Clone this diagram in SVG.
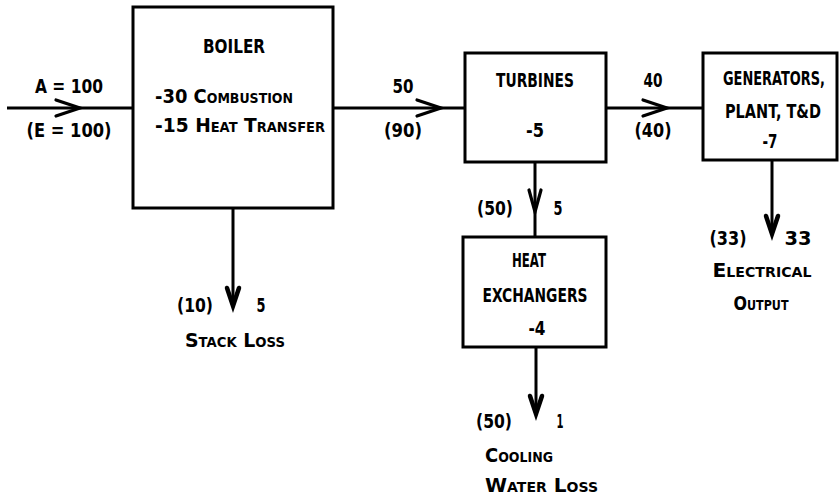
<svg xmlns="http://www.w3.org/2000/svg" xmlns:xlink="http://www.w3.org/1999/xlink" width="840" height="496" viewBox="0 0 840 496">
<style>
  .box { fill: #fff; stroke: #000; stroke-width: 3; }
  .ln { fill: none; stroke: #000; stroke-width: 3; }
  .hd { fill: none; stroke: #000; stroke-width: 3.2; stroke-linejoin: miter; stroke-linecap: round; }
  .hv { fill: none; stroke: #000; stroke-width: 4.5; stroke-linejoin: miter; stroke-linecap: round; }
  text { font-family: "DejaVu Sans", "Liberation Sans", sans-serif; font-weight: bold; font-size: 20px; fill: #000; }
  .c { text-anchor: middle; }
  .sc { font-variant: small-caps; }
</style>
<defs>
  <path id="chevR" class="hd" d="M-24,-8 L0,0 L-24,8"/>
  <path id="chevD" class="hd" d="M-6,-22 L0,0 L6,-22"/>
  <path id="vD" class="hv" d="M-6,-19 L0,-1 L6,-19"/>
</defs>
<rect width="840" height="496" fill="#fff"/>

<g id="connectors">
  <path class="ln" d="M7,108 H133"/>
  <use xlink:href="#chevR" x="80" y="108"/>
  <path class="ln" d="M333,108 H465"/>
  <use xlink:href="#chevR" x="441" y="108"/>
  <path class="ln" d="M606,108 H703"/>
  <use xlink:href="#chevR" x="667" y="108"/>
  <path class="ln" d="M233,208 V304"/>
  <use xlink:href="#vD" x="233" y="307"/>
  <path class="ln" d="M535,162 V237"/>
  <use xlink:href="#chevD" x="535" y="212"/>
  <path class="ln" d="M536,347 V412"/>
  <use xlink:href="#vD" x="536" y="415"/>
  <path class="ln" d="M772,160 V232"/>
  <use xlink:href="#vD" x="772" y="235"/>
</g>

<g id="input">
  <text class="c" x="69" y="93" textLength="68" lengthAdjust="spacingAndGlyphs">A = 100</text>
  <text class="c" x="69" y="137" textLength="85" lengthAdjust="spacingAndGlyphs">(E = 100)</text>
</g>

<g id="boiler">
  <rect class="box" x="133" y="7" width="200" height="201"/>
  <text class="c" x="234" y="53" textLength="62" lengthAdjust="spacingAndGlyphs">BOILER</text>
  <text x="155" y="103" textLength="138" lengthAdjust="spacingAndGlyphs">-30 <tspan class="sc">Combustion</tspan></text>
  <text x="155" y="132" textLength="170" lengthAdjust="spacingAndGlyphs">-15 <tspan class="sc">Heat Transfer</tspan></text>
</g>

<g id="flow-boiler-turbines">
  <text class="c" x="403" y="93" textLength="21" lengthAdjust="spacingAndGlyphs">50</text>
  <text class="c" x="403" y="137" textLength="38" lengthAdjust="spacingAndGlyphs">(90)</text>
</g>

<g id="turbines">
  <rect class="box" x="465" y="53" width="141" height="109"/>
  <text class="c" x="535" y="87" textLength="78" lengthAdjust="spacingAndGlyphs">TURBINES</text>
  <text class="c" x="535" y="137" textLength="18" lengthAdjust="spacingAndGlyphs">-5</text>
</g>

<g id="flow-turbines-generators">
  <text class="c" x="653" y="87" textLength="19" lengthAdjust="spacingAndGlyphs">40</text>
  <text class="c" x="653" y="137" textLength="37" lengthAdjust="spacingAndGlyphs">(40)</text>
</g>

<g id="generators">
  <rect class="box" x="703" y="53" width="134" height="107"/>
  <text class="c" x="774" y="85" textLength="102" lengthAdjust="spacingAndGlyphs">GENERATORS,</text>
  <text class="c" x="773" y="118" textLength="96" lengthAdjust="spacingAndGlyphs">PLANT, T&amp;D</text>
  <text class="c" x="770" y="148" textLength="15" lengthAdjust="spacingAndGlyphs">-7</text>
</g>

<g id="stack-loss">
  <text class="c" x="195" y="312" textLength="36" lengthAdjust="spacingAndGlyphs">(10)</text>
  <text class="c" x="261" y="312" textLength="9" lengthAdjust="spacingAndGlyphs">5</text>
  <text x="185" y="347" class="sc" textLength="100" lengthAdjust="spacingAndGlyphs">Stack Loss</text>
</g>

<g id="flow-turbines-exchangers">
  <text class="c" x="495" y="215" textLength="36" lengthAdjust="spacingAndGlyphs">(50)</text>
  <text class="c" x="558" y="215" textLength="9" lengthAdjust="spacingAndGlyphs">5</text>
</g>

<g id="heat-exchangers">
  <rect class="box" x="463" y="237" width="143" height="110"/>
  <text class="c" x="529" y="267" textLength="34" lengthAdjust="spacingAndGlyphs">HEAT</text>
  <text class="c" x="535" y="302" textLength="105" lengthAdjust="spacingAndGlyphs">EXCHANGERS</text>
  <text class="c" x="537" y="335" textLength="17" lengthAdjust="spacingAndGlyphs">-4</text>
</g>

<g id="cooling-water-loss">
  <text class="c" x="494" y="428" textLength="36" lengthAdjust="spacingAndGlyphs">(50)</text>
  <text class="c" x="560" y="428" textLength="7" lengthAdjust="spacingAndGlyphs">1</text>
  <text x="485" y="462" class="sc" textLength="68" lengthAdjust="spacingAndGlyphs">Cooling</text>
  <text x="485" y="492" class="sc" textLength="113" lengthAdjust="spacingAndGlyphs">Water Loss</text>
</g>

<g id="electrical-output">
  <text class="c" x="728" y="245" textLength="37" lengthAdjust="spacingAndGlyphs">(33)</text>
  <text class="c" x="798" y="245" textLength="27" lengthAdjust="spacingAndGlyphs">33</text>
  <text class="c sc" x="762" y="277" textLength="99" lengthAdjust="spacingAndGlyphs">Electrical</text>
  <text class="c sc" x="761" y="310" textLength="55" lengthAdjust="spacingAndGlyphs">Output</text>
</g>
</svg>
